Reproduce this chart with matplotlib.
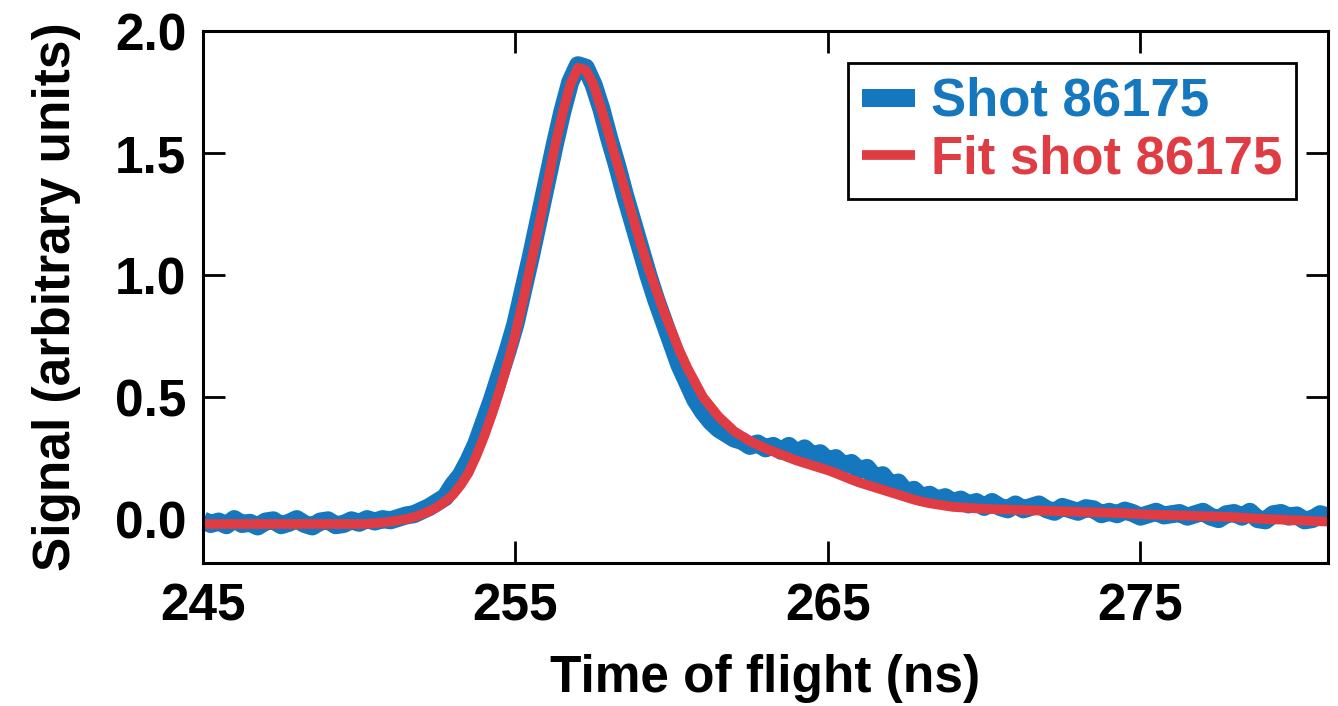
import numpy as np
import matplotlib
matplotlib.use("Agg")
import matplotlib.pyplot as plt

# time axis (ns), 0.25 ns sampling
tof = [245.0 + 0.25 * i for i in range(145)]

# measured signal, shot 86175
shot = [-0.005, -0.02, -0.01, -0.025, 0.0, -0.02, -0.015, -0.03, -0.01, -0.005,
        -0.025, -0.015, 0.0, -0.02, -0.03, -0.01, -0.005, -0.025, -0.02, -0.005,
        -0.015, 0.0, -0.01, 0.0, -0.005,
        0.005, 0.015, 0.02, 0.035, 0.05, 0.07, 0.09, 0.14, 0.18, 0.24,
        0.31, 0.40, 0.49, 0.59, 0.69, 0.80, 0.94, 1.08, 1.23, 1.38,
        1.53, 1.67, 1.79, 1.86, 1.85, 1.78, 1.68, 1.56, 1.45, 1.33,
        1.22, 1.11, 1.00, 0.90, 0.81, 0.72, 0.63, 0.56, 0.49, 0.44,
        0.40, 0.37, 0.35, 0.33, 0.32, 0.30, 0.31, 0.29, 0.30, 0.28,
        0.30, 0.27, 0.29, 0.26, 0.27, 0.24, 0.25, 0.22, 0.23, 0.20,
        0.21, 0.17, 0.18, 0.14, 0.15, 0.11, 0.12, 0.09, 0.10, 0.08,
        0.09, 0.07, 0.08, 0.06, 0.07, 0.05, 0.07, 0.05, 0.04, 0.06,
        0.04, 0.05, 0.06, 0.04, 0.03, 0.05, 0.04, 0.03, 0.045, 0.04,
        0.02, 0.03, 0.02, 0.035, 0.025, 0.01, 0.02, 0.03, 0.015, 0.02,
        0.025, 0.01, 0.02, 0.03, 0.01, 0.0, 0.02, 0.025, 0.01, 0.03,
        0.0, -0.005, 0.02, 0.025, 0.01, 0.015, -0.005, 0.0, 0.02, 0.01]

# fitted curve
fit = [-0.02, -0.02, -0.02, -0.02, -0.02, -0.02, -0.02, -0.02, -0.02, -0.02,
       -0.02, -0.02, -0.02, -0.02, -0.02, -0.02, -0.02, -0.02, -0.02, -0.02,
       -0.02, -0.019, -0.017, -0.014, -0.01,
       -0.005, 0.0, 0.008, 0.02, 0.033, 0.05, 0.072, 0.10, 0.14, 0.19,
       0.26, 0.34, 0.43, 0.53, 0.64, 0.76, 0.90, 1.05, 1.20, 1.36,
       1.52, 1.66, 1.78, 1.85, 1.84, 1.78, 1.68, 1.57, 1.46, 1.35,
       1.24, 1.13, 1.03, 0.94, 0.85, 0.77, 0.69, 0.62, 0.56, 0.50,
       0.46, 0.42, 0.39, 0.36, 0.34, 0.32, 0.305, 0.29, 0.277, 0.265,
       0.252, 0.24, 0.23, 0.22, 0.21, 0.20, 0.188, 0.175, 0.162, 0.15,
       0.14, 0.13, 0.12, 0.11, 0.10, 0.09, 0.08, 0.072, 0.065, 0.06,
       0.055, 0.05, 0.048, 0.046, 0.044, 0.042, 0.041, 0.04, 0.039, 0.038,
       0.037, 0.036, 0.035, 0.034, 0.033, 0.032, 0.031, 0.03, 0.029, 0.028,
       0.027, 0.026, 0.025, 0.024, 0.022, 0.02, 0.019, 0.018, 0.017, 0.016,
       0.015, 0.014, 0.013, 0.012, 0.011, 0.01, 0.009, 0.008, 0.006, 0.004,
       0.002, 0.0, -0.001, -0.002, -0.004, -0.005, -0.006, -0.008, -0.009, -0.01]

xticks = [245, 255, 265, 275]
yticks = [0.0, 0.5, 1.0, 1.5, 2.0]

blue = '#1577be'
red = '#e03c44'
fs = 37

plt.rcParams['font.family'] = ['Liberation Sans', 'DejaVu Sans']
plt.rcParams['font.weight'] = 'bold'

fig = plt.figure(figsize=(13.38, 7.06), dpi=100)
ax = fig.add_axes([0.1517, 0.2025, 0.9925 - 0.1517, 0.956 - 0.2025])

ax.plot(tof, shot, color=blue, linewidth=13, solid_joinstyle='round',
        solid_capstyle='butt', label='Shot 86175')
ax.plot(tof, fit, color=red, linewidth=7, solid_joinstyle='round',
        solid_capstyle='butt', label='Fit shot 86175')

ax.set_xlim(245, 281)
ax.set_ylim(-0.18, 2.0)
ax.set_xticks(xticks)
ax.set_yticks(yticks)
ax.set_xticklabels([str(t) for t in xticks])
ax.set_yticklabels(['%.1f' % t for t in yticks])

ax.tick_params(direction='in', length=16, width=2, top=True, right=True,
               labelsize=fs)
ax.tick_params(axis='x', pad=14)
ax.tick_params(axis='y', pad=12)
for sp in ax.spines.values():
    sp.set_linewidth(2.2)

ax.set_xlabel('Time of flight (ns)', fontsize=fs, fontweight='bold', labelpad=16)
ax.set_ylabel('Signal (arbitrary units)', fontsize=fs, fontweight='bold', labelpad=24)

leg = ax.legend(loc='upper right', fontsize=38, frameon=True, fancybox=False,
                handlelength=1.0, handletextpad=0.3, labelspacing=0.15,
                borderpad=0.27, borderaxespad=0.6)
leg.get_frame().set_edgecolor('black')
leg.get_frame().set_linewidth(2)
leg.get_frame().set_alpha(1)
leg.get_texts()[0].set_color(blue)
leg.get_texts()[1].set_color(red)

plt.savefig('out.png', dpi=100)
